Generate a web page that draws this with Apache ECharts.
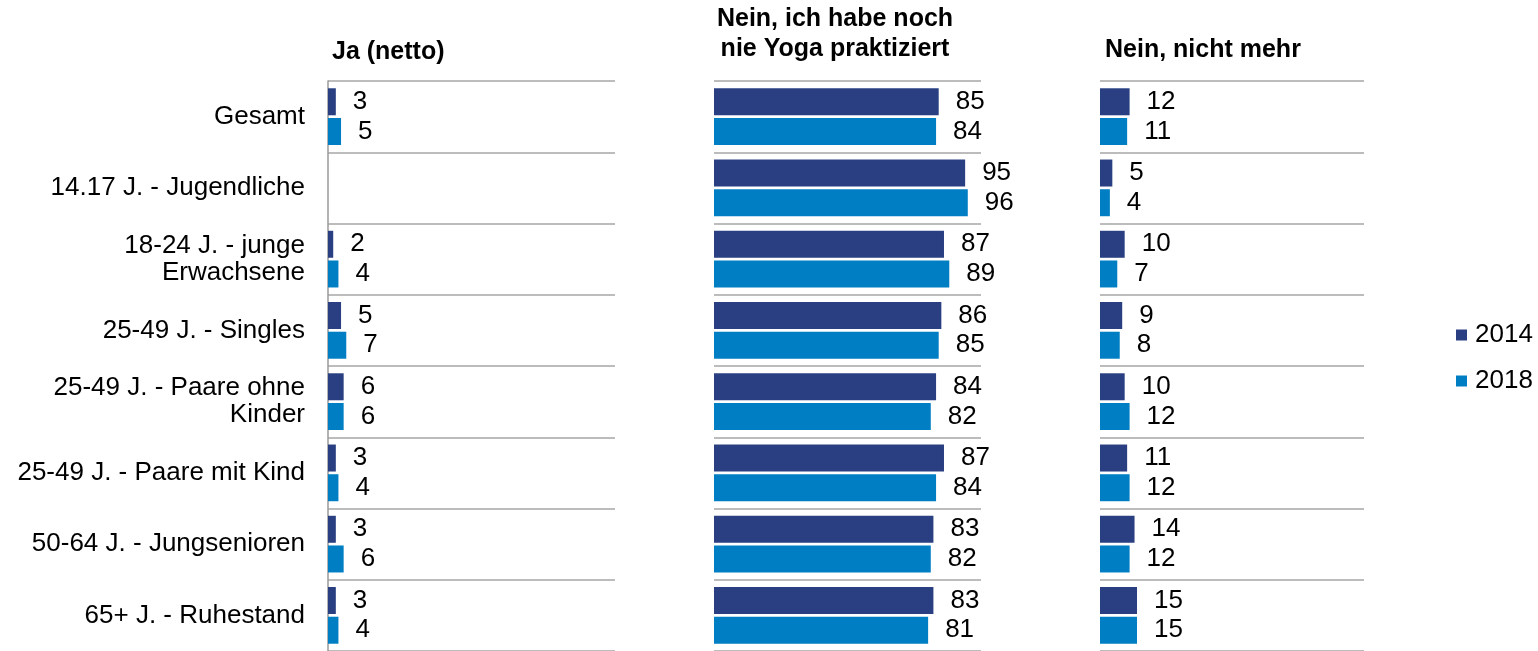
<!DOCTYPE html>
<html><head><meta charset="utf-8">
<script src="https://cdn.jsdelivr.net/npm/echarts@6/dist/echarts.min.js"></script>
<style>html,body{margin:0;padding:0;background:#fff}#c{width:1538px;height:651px}</style>
</head><body><div id="c"></div>
<script>
const categories = ['Gesamt','14.17 J. - Jugendliche','18-24 J. - junge\nErwachsene','25-49 J. - Singles','25-49 J. - Paare ohne\nKinder','25-49 J. - Paare mit Kind','50-64 J. - Jungsenioren','65+ J. - Ruhestand'];
const panelTitles = ['Ja (netto)','Nein, ich habe noch\nnie Yoga praktiziert','Nein, nicht mehr'];
const years = ['2014','2018'];
const ja2014 = [3, null, 2, 5, 6, 3, 3, 3];
const ja2018 = [5, null, 4, 7, 6, 4, 6, 4];
const nie2014 = [85, 95, 87, 86, 84, 87, 83, 83];
const nie2018 = [84, 96, 89, 85, 82, 84, 82, 81];
const mehr2014 = [12, 5, 10, 9, 10, 11, 14, 15];
const mehr2018 = [11, 4, 7, 8, 12, 12, 12, 15];

const FONT = "'Liberation Sans', Arial, sans-serif";
const C1 = '#293f82', C2 = '#007ec4';
const grids = [
  {left:328, width:287, top:81, height:571},
  {left:714, width:267, top:81, height:571},
  {left:1100, width:264, top:81, height:571}
];
const maxes = [110, 101, 107];
const panelData = [[ja2014, ja2018],[nie2014, nie2018],[mehr2014, mehr2018]];

const xAxis = grids.map((g,i)=>({type:'value', gridIndex:i, min:0, max:maxes[i], show:false}));
const yAxis = grids.map((g,i)=>({
  type:'category', gridIndex:i, data:categories, inverse:true,
  axisLine:{show:i===0, lineStyle:{color:'#9a9a9a', width:1.5}},
  axisTick:{show:false},
  axisLabel:{show:i===0, fontFamily:FONT, fontSize:26, color:'#000', margin:23, lineHeight:27, align:'right'},
  splitLine:{show:true, lineStyle:{color:'#a6a6a6', width:1.5}}
}));
const series = [];
panelData.forEach((pair,i)=>{
  pair.forEach((vals,j)=>{
    series.push({
      type:'bar', name:years[j], xAxisIndex:i, yAxisIndex:i, data:vals,
      barWidth:27, barGap:'10%',
      itemStyle:{color: j===0?C1:C2},
      label:{show:true, position:'right', distance:17, fontFamily:FONT, fontSize:26, color:'#000'},
      emphasis:{disabled:true}
    });
  });
});

const chart = echarts.init(document.getElementById('c'));
chart.setOption({
  animation:false,
  grid:grids,
  xAxis, yAxis, series,
  legend:{
    data:years, orient:'vertical', left:1451, top:317, itemWidth:11, itemHeight:11, itemGap:20,
    icon:'rect', textStyle:{fontFamily:FONT, fontSize:26, color:'#000', padding:[0,0,0,3]}
  },
  graphic:[
    {type:'text', x:332, y:52, style:{text:panelTitles[0], fontFamily:FONT, fontSize:25, fontWeight:'bold', fill:'#000', verticalAlign:'middle'}},
    {type:'text', x:835, y:4, style:{text:panelTitles[1], fontFamily:FONT, fontSize:25, fontWeight:'bold', fill:'#000', align:'center', verticalAlign:'top', lineHeight:30}},
    {type:'text', x:1105, y:50, style:{text:panelTitles[2], fontFamily:FONT, fontSize:25, fontWeight:'bold', fill:'#000', verticalAlign:'middle'}}
  ]
});
</script></body></html>
